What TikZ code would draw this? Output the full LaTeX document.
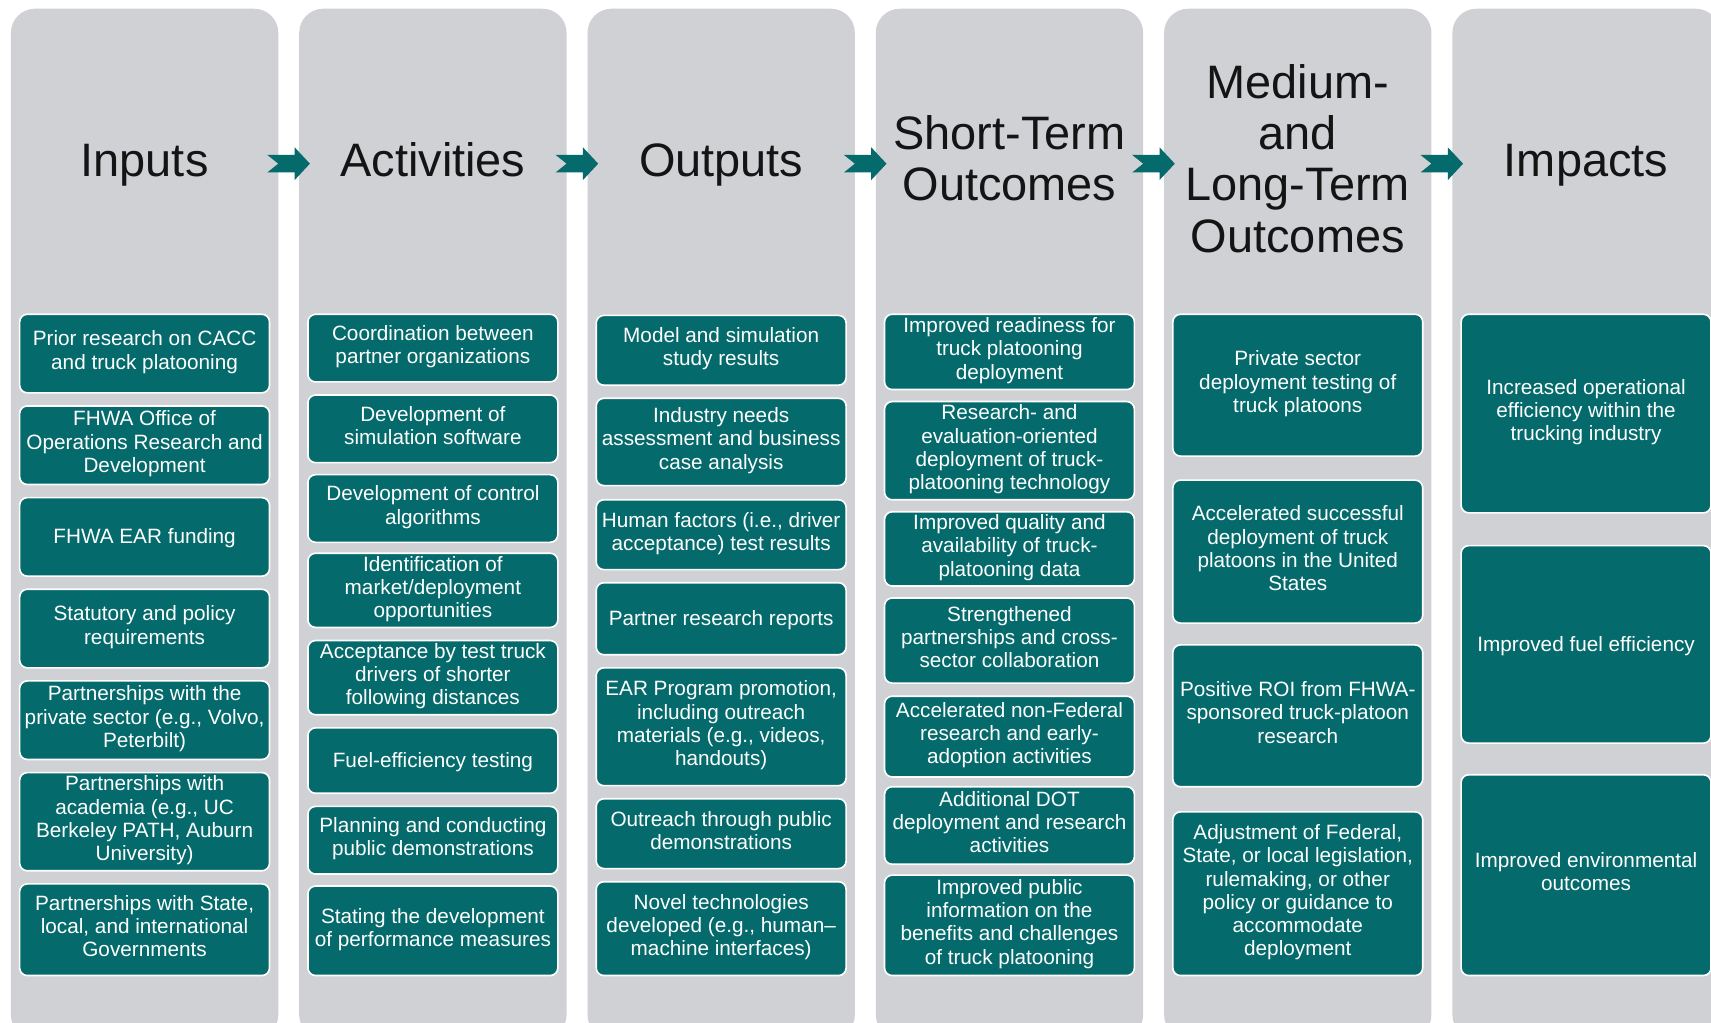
\documentclass[tikz,border=0pt]{standalone}
\usepackage{fontspec}
\setmainfont{Liberation Sans}
\definecolor{colgray}{HTML}{D0D1D5}
\definecolor{tealbox}{HTML}{046A6B}
\newcommand\topstrut{\rule[-6.4pt]{0pt}{25.3pt}}
\tikzset{
  colpanel/.style={fill=colgray, rounded corners=22pt},
  coltitle/.style={font=\fontsize{43}{47}\selectfont, align=center, text=black!92,
    inner sep=0pt, execute at begin node=\strut, execute at end node=\strut},
  box/.style={fill=tealbox, draw=white, line width=1.5pt, rounded corners=7pt,
    text=white, align=center, font=\fontsize{19}{21.3}\selectfont,
    minimum width=229pt, inner sep=0pt,
    execute at begin node=\topstrut, execute at end node=\strut},
  chevfill/.style={fill=tealbox}
}
\newcommand\bx[5]{\node[box, minimum height={#4-#3}] (#1) at (#2,{(#3+#4)/2}) {#5};}
\newcommand\chev[1]{\fill[chevfill, shift={(#1)}] (-19.5,-8) -- (5.5,-8) -- (5.5,-15) -- (19.5,0) -- (5.5,15) -- (5.5,8) -- (-19.5,8) -- (-9.5,0) -- cycle;}
\begin{document}
\begin{tikzpicture}[x=1pt,y=-1pt]
\useasboundingbox (0,0) rectangle (1568,937);
\fill[white] (0,0) rectangle (1568,937);
\clip (0,0) rectangle (1568,937);
% column panels
\foreach \i in {0,...,5}{
  \fill[colpanel] ({10+264.2*\i},8) rectangle ({255+264.2*\i},952);
}
% titles
\node[coltitle] (tI) at (132.5,152) {Inputs};
\node[coltitle] (tA) at (396.7,152) {Activities};
\node[coltitle] (tO) at (660.9,152) {Outputs};
\node[coltitle] (tS) at (925.1,152) {Short-Term\\Outcomes};
\node[coltitle] (tM) at (1189.3,152) {Medium-\\and\\Long-Term\\Outcomes};
\node[coltitle] (tP) at (1453.5,152) {Impacts};
% arrows between columns
\foreach \i in {1,...,5}{
  \coordinate (ar\i) at ({264.5+264.2*(\i-1)},150);
}
\chev{ar1}\chev{ar2}\chev{ar3}\chev{ar4}\chev{ar5}
% Inputs
\bx{i1}{132.5}{288}{360}{Prior research on CACC\\and truck platooning}
\bx{i2}{132.5}{372}{444}{FHWA Office of\\Operations Research and\\Development}
\bx{i3}{132.5}{456}{528}{FHWA EAR funding}
\bx{i4}{132.5}{540}{612}{Statutory and policy\\requirements}
\bx{i5}{132.5}{624}{696}{Partnerships with the\\private sector (e.g., Volvo,\\Peterbilt)}
\bx{i6}{132.5}{708}{798}{Partnerships with\\academia (e.g., UC\\Berkeley PATH, Auburn\\University)}
\bx{i7}{132.5}{810}{894}{Partnerships with State,\\local, and international\\Governments}
% Activities
\bx{a1}{396.7}{288}{350}{Coordination between\\partner organizations}
\bx{a2}{396.7}{362}{424}{Development of\\simulation software}
\bx{a3}{396.7}{435}{497}{Development of control\\algorithms}
\bx{a4}{396.7}{507}{575}{Identification of\\market/deployment\\opportunities}
\bx{a5}{396.7}{587}{655}{Acceptance by test truck\\drivers of shorter\\following distances}
\bx{a6}{396.7}{667}{727}{Fuel-efficiency testing}
\bx{a7}{396.7}{739}{801}{Planning and conducting\\public demonstrations}
\bx{a8}{396.7}{812}{894}{Stating the development\\of performance measures}
% Outputs
\bx{o1}{660.9}{289}{353}{Model and simulation\\study results}
\bx{o2}{660.9}{365}{445}{Industry needs\\assessment and business\\case analysis}
\bx{o3}{660.9}{458}{522}{Human factors (i.e., driver\\acceptance) test results}
\bx{o4}{660.9}{534}{600}{Partner research reports}
\bx{o5}{660.9}{612}{720}{EAR Program promotion,\\including outreach\\materials (e.g., videos,\\handouts)}
\bx{o6}{660.9}{732}{796}{Outreach through public\\demonstrations}
\bx{o7}{660.9}{808}{894}{Novel technologies\\developed (e.g., human–\\machine interfaces)}
% Short-term outcomes
\bx{s1}{925.1}{288}{357}{Improved readiness for\\truck platooning\\deployment}
\bx{s2}{925.1}{368}{458}{Research- and\\evaluation-oriented\\deployment of truck-\\platooning technology}
\bx{s3}{925.1}{469}{537}{Improved quality and\\availability of truck-\\platooning data}
\bx{s4}{925.1}{548}{626}{Strengthened\\partnerships and cross-\\sector collaboration}
\bx{s5}{925.1}{638}{712}{Accelerated non-Federal\\research and early-\\adoption activities}
\bx{s6}{925.1}{721}{792}{Additional DOT\\deployment and research\\activities}
\bx{s7}{925.1}{802}{894}{Improved public\\information on the\\benefits and challenges\\of truck platooning}
% Medium- and long-term outcomes
\bx{m1}{1189.3}{288}{418}{Private sector\\deployment testing of\\truck platoons}
\bx{m2}{1189.3}{440}{571}{Accelerated successful\\deployment of truck\\platoons in the United\\States}
\bx{m3}{1189.3}{591}{721}{Positive ROI from FHWA-\\sponsored truck-platoon\\research}
\bx{m4}{1189.3}{744}{894}{Adjustment of Federal,\\State, or local legislation,\\rulemaking, or other\\policy or guidance to\\accommodate\\deployment}
% Impacts
\bx{p1}{1453.5}{288}{470}{Increased operational\\efficiency within the\\trucking industry}
\bx{p2}{1453.5}{500}{681}{Improved fuel efficiency}
\bx{p3}{1453.5}{710}{894}{Improved environmental\\outcomes}
\end{tikzpicture}
\end{document}
